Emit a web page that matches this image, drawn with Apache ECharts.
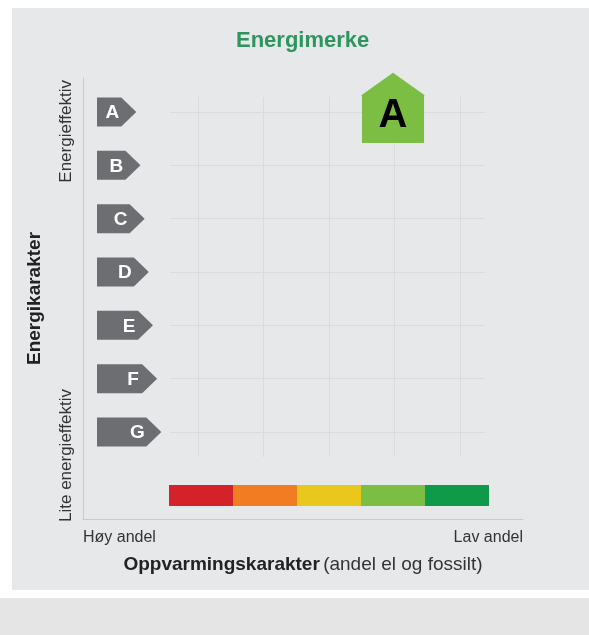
<!DOCTYPE html>
<html>
<head>
<meta charset="utf-8">
<script src="https://cdn.jsdelivr.net/npm/echarts@6/dist/echarts.min.js"></script>
<style>
html,body{margin:0;padding:0;background:#ffffff;}
#chart{width:589px;height:635px;}
</style>
</head>
<body>
<div id="chart"></div>
<script>
// ---- data ----
const chartTitle = 'Energimerke';
const grades = ['A', 'B', 'C', 'D', 'E', 'F', 'G'];
const heatingLevels = ['1', '2', '3', '4', '5'];
const heatingColors = ['#d3222a', '#f27c22', '#e9c71d', '#7cbe43', '#0f9a4a'];
const energyGrade = 'A';
const heatingLevel = '4';
const xEndLabels = ['Høy andel', 'Lav andel'];
const yEndLabels = ['Lite energieffektiv', 'Energieffektiv'];
const yAxisTitle = 'Energikarakter';
const xAxisTitle = 'Oppvarmingskarakter';
const xAxisSubtitle = '(andel el og fossilt)';

// ---- chart ----
const FONT = '"Liberation Sans", Arial, Helvetica, sans-serif';
const chart = echarts.init(document.getElementById('chart'), null, {renderer: 'canvas'});

const hidden = {show: false};
const gridLineColor = '#d9dbde';

const option = {
  backgroundColor: '#ffffff',
  animation: false,
  textStyle: {fontFamily: FONT},
  title: {
    text: chartTitle,
    left: 236,
    top: 30,
    padding: 0,
    textStyle: {color: '#2f9560', fontSize: 22, fontWeight: 'bold', fontFamily: FONT}
  },
  graphic: [
    {type: 'rect', z: -10, silent: true, shape: {x: 12, y: 8, width: 577, height: 582}, style: {fill: '#e6e8ea'}},
    {type: 'rect', z: -10, silent: true, shape: {x: 0, y: 598, width: 589, height: 37}, style: {fill: '#e5e5e5'}},
    {type: 'text', x: 66, y: 80, rotation: Math.PI / 2, silent: true,
      style: {text: yEndLabels[1], textAlign: 'right', textVerticalAlign: 'middle', fill: '#333333', font: '17px ' + FONT}},
    {type: 'text', x: 66, y: 522, rotation: Math.PI / 2, silent: true,
      style: {text: yEndLabels[0], textAlign: 'left', textVerticalAlign: 'middle', fill: '#333333', font: '17px ' + FONT}}
  ],
  grid: [
    {left: 169, top: 85.333, width: 320, height: 373.333},   // 0 house
    {left: 170, top: 112, width: 315, height: 320},          // 1 horizontal lines
    {left: 198, top: 97, width: 262, height: 360},           // 2 vertical lines
    {left: 83, top: 78, width: 440, height: 441},            // 3 axis frame
    {left: 97, top: 85.333, width: 70, height: 373.333},     // 4 grade arrows
    {left: 169, top: 485, width: 320, height: 21}            // 5 heating colour bar
  ],
  xAxis: [
    {gridIndex: 0, type: 'category', data: heatingLevels, show: false},
    {gridIndex: 1, type: 'value', min: 0, max: 1, show: false},
    {gridIndex: 2, type: 'value', min: 0, max: 4, interval: 1,
      axisLine: hidden, axisTick: hidden, axisLabel: hidden,
      splitLine: {show: true, lineStyle: {color: gridLineColor, width: 1}}},
    {gridIndex: 3, type: 'value', min: 0, max: 1, interval: 1,
      axisLine: {show: true, lineStyle: {color: '#c9cbce', width: 1}},
      axisTick: hidden, splitLine: hidden,
      axisLabel: {
        show: true, margin: 11, fontSize: 16, color: '#333333',
        formatter: v => (v === 0 ? xEndLabels[0] : xEndLabels[1]),
        alignMinLabel: 'left', alignMaxLabel: 'right'
      },
      name: '{b|' + xAxisTitle + '} {r|' + xAxisSubtitle + '}',
      nameLocation: 'middle', nameGap: 36,
      nameTextStyle: {
        rich: {
          b: {fontSize: 19, fontWeight: 'bold', color: '#222222', fontFamily: FONT},
          r: {fontSize: 19, color: '#333333', fontFamily: FONT}
        }
      }
    },
    {gridIndex: 4, type: 'value', min: 0, max: 1, show: false},
    {gridIndex: 5, type: 'category', data: heatingLevels, show: false}
  ],
  yAxis: [
    {gridIndex: 0, type: 'category', data: grades, inverse: true, show: false},
    {gridIndex: 1, type: 'value', min: 0, max: 6, interval: 1,
      axisLine: hidden, axisTick: hidden, axisLabel: hidden,
      splitLine: {show: true, lineStyle: {color: gridLineColor, width: 1}}},
    {gridIndex: 2, type: 'value', min: 0, max: 1, show: false},
    {gridIndex: 3, type: 'value', min: 0, max: 1, interval: 1,
      axisLine: {show: true, lineStyle: {color: '#c9cbce', width: 1}},
      axisTick: hidden, splitLine: hidden, axisLabel: hidden,
      name: yAxisTitle, nameLocation: 'middle', nameRotate: 90, nameGap: 39,
      nameTextStyle: {fontSize: 19, fontWeight: 'bold', color: '#222222', fontFamily: FONT}
    },
    {gridIndex: 4, type: 'category', data: grades, inverse: true, show: false},
    {gridIndex: 5, type: 'value', min: 0, max: 1, show: false}
  ],
  series: [
    {
      // grade arrows A-G
      type: 'custom',
      xAxisIndex: 4, yAxisIndex: 4,
      silent: true, clip: false,
      data: grades.map((g, i) => [0, i]),
      renderItem: function (params, api) {
        const idx = api.value(1);
        const c = api.coord([0, idx]);
        const h = api.size([0, 1])[1] * 0.545;
        const len = 39.3 + idx * 4.17;
        const tri = 15;
        const x0 = c[0], y = c[1];
        return {
          type: 'group',
          children: [
            {type: 'polygon',
              shape: {points: [[x0, y - h / 2], [x0 + len - tri, y - h / 2], [x0 + len, y], [x0 + len - tri, y + h / 2], [x0, y + h / 2]]},
              style: {fill: '#6d6e71'}},
            {type: 'text',
              style: {text: grades[idx], x: x0 + len - 24, y: y + 1, textAlign: 'center', textVerticalAlign: 'middle',
                fill: '#ffffff', font: 'bold 19px ' + FONT}}
          ]
        };
      }
    },
    {
      // heating colour scale
      type: 'bar',
      xAxisIndex: 5, yAxisIndex: 5,
      silent: true,
      barWidth: '100%',
      data: heatingColors.map(c => ({value: 1, itemStyle: {color: c}}))
    },
    {
      // energy label house marker
      type: 'custom',
      xAxisIndex: 0, yAxisIndex: 0,
      silent: true, clip: false,
      data: [[heatingLevel, energyGrade]],
      renderItem: function (params, api) {
        const c = api.coord([api.value(0), api.value(1)]);
        const bw = api.size([1, 0])[0] * 0.97;
        const bh = api.size([0, 1])[1];
        const x = c[0], y = c[1];
        const top = y - bh * 0.32, bottom = y + bh * 0.58, peak = y - bh * 0.737;
        const col = heatingColors[heatingLevels.indexOf(heatingLevel)];
        return {
          type: 'group',
          children: [
            {type: 'rect', shape: {x: x - bw / 2, y: top, width: bw, height: bottom - top}, style: {fill: col}},
            {type: 'polygon', shape: {points: [[x - bw / 2 - 1, top + 0.5], [x, peak], [x + bw / 2 + 1, top + 0.5]]}, style: {fill: col}},
            {type: 'text', style: {text: energyGrade, x: x, y: y + 4, textAlign: 'center', textVerticalAlign: 'middle',
              fill: '#000000', font: 'bold 40px ' + FONT}}
          ]
        };
      }
    }
  ]
};
chart.setOption(option);
</script>
</body>
</html>
